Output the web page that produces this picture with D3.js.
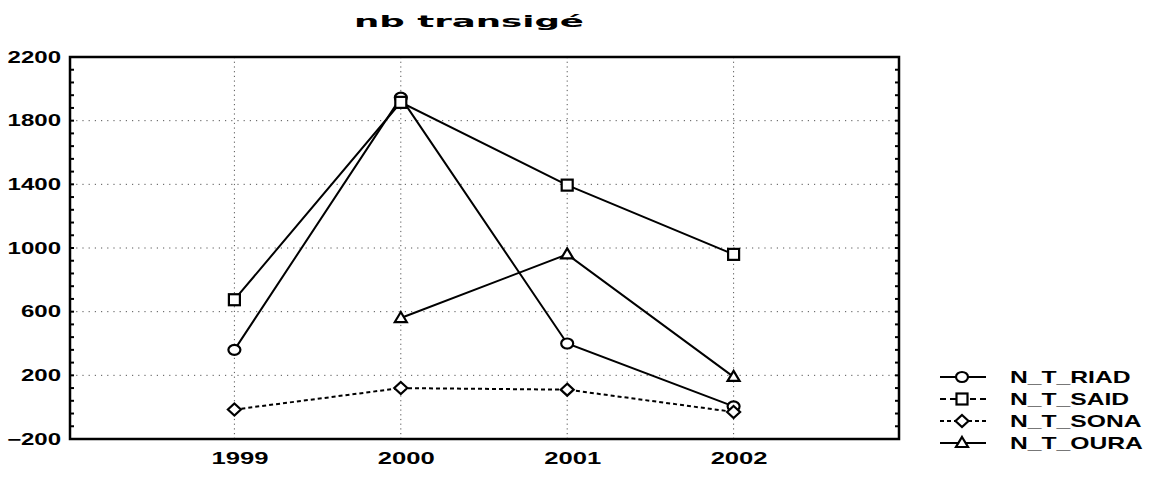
<!DOCTYPE html>
<html>
<head>
<meta charset="utf-8">
<script src="https://cdn.jsdelivr.net/npm/d3@7"></script>
<style>
  html, body { margin: 0; padding: 0; background: #fff; }
  svg { display: block; }
  text { font-family: "Liberation Sans", Arial, sans-serif; fill: #000; }
</style>
</head>
<body>
<svg id="chart" width="1160" height="478"></svg>
<script>
const title = "nb transigé";
const years = [1999, 2000, 2001, 2002];
const yTicks = [-200, 200, 600, 1000, 1400, 1800, 2200];
const seriesNames = ["N_T_RIAD", "N_T_SAID", "N_T_SONA", "N_T_OURA"];
const riad = [360, 1945, 400, 5];
const said = [675, 1915, 1395, 960];
const sona = [-15, 120, 110, -30];
const oura = [null, 560, 960, 190];
const markers = ["circle", "square", "diamond", "triangle"];
const dashed = [false, false, true, false];

const series = seriesNames.map((name, i) => ({
  name, values: [riad, said, sona, oura][i], marker: markers[i], dashed: dashed[i]
}));

const svg = d3.select("#chart");
const L = 70, R = 899, T = 57, B = 439;
const x = d3.scaleLinear().domain([1998, 2003]).range([68, 900]);
const y = d3.scaleLinear().domain([-200, 2200]).range([B, T]);

// widen text to mimic the stretched print font
function stretch(sel, k) {
  sel.each(function () {
    const w = this.getComputedTextLength();
    d3.select(this).attr("textLength", w * k).attr("lengthAdjust", "spacingAndGlyphs");
  });
}

// title
const tt = svg.append("text").attr("x", 469).attr("y", 27).attr("text-anchor", "middle")
  .style("font-family", "'DejaVu Sans', sans-serif").style("font-weight", "bold")
  .style("font-size", "16px").text(title);
tt.each(function () {
  d3.select(this).attr("textLength", 230).attr("lengthAdjust", "spacingAndGlyphs");
});

// grid
const grid = svg.append("g");
yTicks.filter(v => v > -200 && v < 2200).forEach(v => {
  grid.append("line").attr("x1", L).attr("x2", R).attr("y1", y(v)).attr("y2", y(v))
    .attr("stroke", "#555").attr("stroke-width", 1).attr("stroke-dasharray", "1.2,5");
});
years.forEach(v => {
  grid.append("line").attr("x1", x(v)).attr("x2", x(v)).attr("y1", T).attr("y2", B)
    .attr("stroke", "#555").attr("stroke-width", 1).attr("stroke-dasharray", "1.2,3.5");
});

// minor ticks on left & right
const minor = d3.range(-200, 2200.1, 80);
svg.append("g").selectAll("line").data(minor).join("line")
  .attr("x1", L).attr("x2", L + 4).attr("y1", d => y(d)).attr("y2", d => y(d))
  .attr("stroke", "#000").attr("stroke-width", 2);
svg.append("g").selectAll("line").data(minor).join("line")
  .attr("x1", R).attr("x2", R - 4).attr("y1", d => y(d)).attr("y2", d => y(d))
  .attr("stroke", "#000").attr("stroke-width", 2);

// frame
svg.append("rect").attr("x", L).attr("y", T).attr("width", R - L).attr("height", B - T)
  .attr("fill", "none").attr("stroke", "#000").attr("stroke-width", 2.5);

// y axis labels
const yAxis = d3.axisLeft(y).tickValues(yTicks).tickFormat(d3.format("d")).tickSize(0).tickPadding(9);
const yg = svg.append("g").attr("transform", `translate(${L},0)`).call(yAxis);
yg.select(".domain").remove();
yg.selectAll("text").style("font-size", "16px").style("font-weight", "bold")
  .style("font-family", "'Liberation Sans', Arial, sans-serif").attr("fill", "#000");
stretch(yg.selectAll("text"), 1.5);

// x axis labels
const xAxis = d3.axisBottom(x).tickValues(years).tickFormat(d3.format("d")).tickSize(0).tickPadding(14);
const xg = svg.append("g").attr("transform", `translate(0,${B})`).call(xAxis);
xg.select(".domain").remove();
xg.selectAll("text").style("font-size", "16px").style("font-weight", "bold")
  .attr("dx", "5px").style("font-family", "'Liberation Sans', Arial, sans-serif").attr("fill", "#000");
stretch(xg.selectAll("text"), 1.6);

// marker drawing
function drawMarker(g, type, cx, cy) {
  if (type === "circle") {
    g.append("ellipse").attr("cx", cx).attr("cy", cy).attr("rx", 6).attr("ry", 5)
      .attr("fill", "#fff").attr("stroke", "#000").attr("stroke-width", 2.2);
  } else if (type === "square") {
    g.append("rect").attr("x", cx - 5.5).attr("y", cy - 5.5).attr("width", 11).attr("height", 11)
      .attr("fill", "#fff").attr("stroke", "#000").attr("stroke-width", 2.2);
  } else if (type === "diamond") {
    g.append("path").attr("d", `M${cx},${cy - 6}L${cx + 6.5},${cy}L${cx},${cy + 6}L${cx - 6.5},${cy}Z`)
      .attr("fill", "#fff").attr("stroke", "#000").attr("stroke-width", 2.2);
  } else if (type === "triangle") {
    g.append("path").attr("d", `M${cx},${cy - 6}L${cx + 6},${cy + 4}L${cx - 6},${cy + 4}Z`)
      .attr("fill", "#fff").attr("stroke", "#000").attr("stroke-width", 2.2);
  }
}

// lines
const line = d3.line().defined(d => d.v !== null).x(d => x(d.year)).y(d => y(d.v));
const plot = svg.append("g");
series.forEach(s => {
  const pts = years.map((yr, i) => ({ year: yr, v: s.values[i] }));
  plot.append("path").datum(pts).attr("d", line).attr("fill", "none")
    .attr("stroke", "#000").attr("stroke-width", 2)
    .attr("stroke-dasharray", s.dashed ? "4,3" : null);
});
series.forEach(s => {
  const g = plot.append("g");
  years.forEach((yr, i) => {
    if (s.values[i] !== null) drawMarker(g, s.marker, x(yr), y(s.values[i]));
  });
});

// legend
const legY = [377, 399, 421, 443];
const lg = svg.append("g");
series.forEach((s, i) => {
  const cy = legY[i];
  lg.append("line").attr("x1", 940).attr("x2", 986).attr("y1", cy).attr("y2", cy)
    .attr("stroke", "#000").attr("stroke-width", 2)
    .attr("stroke-dasharray", s.dashed ? "4,3" : (i === 1 ? "6,4" : null));
  drawMarker(lg, s.marker, 962, cy);
  const t = lg.append("text").attr("x", 1010).attr("y", cy).attr("dy", "0.36em")
    .style("font-size", "17px").style("font-weight", "bold").text(s.name);
  stretch(t, 1.45);
});
</script>
</body>
</html>
